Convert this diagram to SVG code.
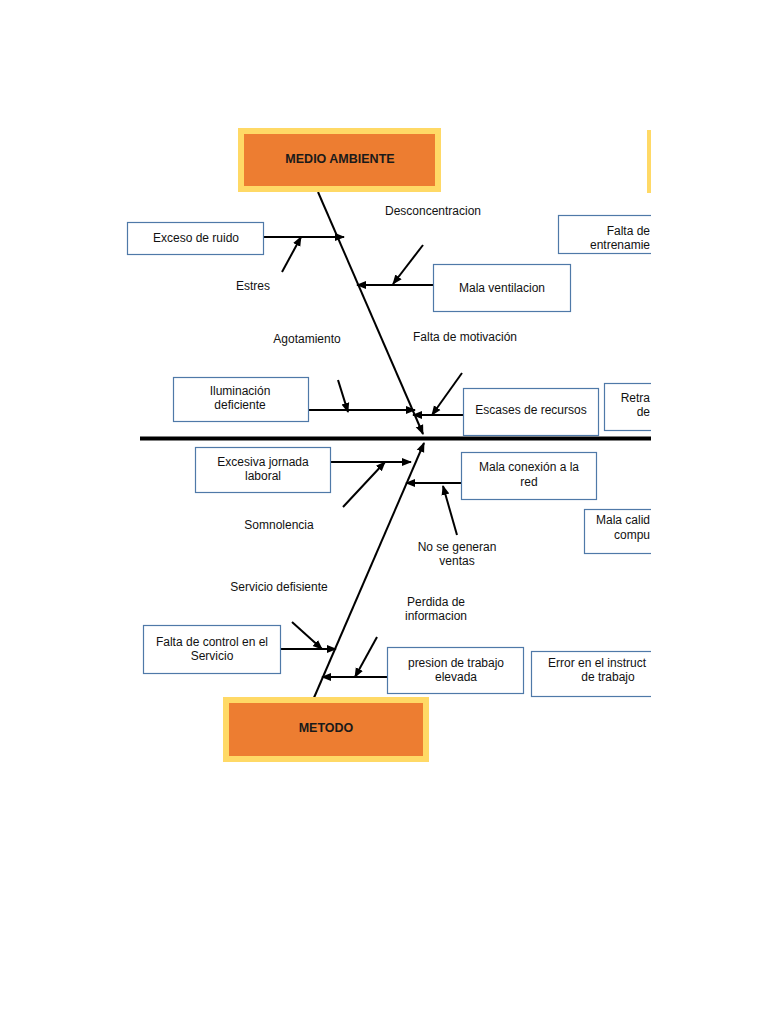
<svg xmlns="http://www.w3.org/2000/svg" width="768" height="1024" viewBox="0 0 768 1024">
<defs>
<clipPath id="page"><rect x="0" y="0" width="651" height="1024"/></clipPath>
<marker id="ah" viewBox="0 0 10 10" refX="9" refY="5" markerWidth="5" markerHeight="5" orient="auto" markerUnits="strokeWidth">
<path d="M0,1 L10,5 L0,9 z" fill="#000"/>
</marker>
<style>
.box{fill:#fff;stroke:#4f79a8;stroke-width:1.2}
.outer{fill:#ffd966}
.inner{fill:#ed7d31}
.t{font-family:"Liberation Sans",Arial,sans-serif;font-size:12px;fill:#111;text-anchor:middle}
.h{font-family:"Liberation Sans",Arial,sans-serif;font-size:12.5px;font-weight:bold;fill:#1a1a1a;text-anchor:middle}
.bone{stroke:#000;stroke-width:2;fill:none}
.arr{stroke:#000;stroke-width:2;fill:none;marker-end:url(#ah)}
</style>
</defs>
<rect width="768" height="1024" fill="#fff"/>
<g clip-path="url(#page)">
<g id="connectors">
<line x1="140" y1="438.5" x2="651" y2="438.5" stroke="#000" stroke-width="4"/>
<line class="arr" x1="318" y1="192" x2="423" y2="434"/>
<line class="arr" x1="313" y1="700" x2="424" y2="443"/>
<line class="arr" x1="264" y1="237" x2="344" y2="237"/>
<line class="arr" x1="282" y1="272" x2="301" y2="237"/>
<line class="arr" x1="433" y1="285" x2="357" y2="285"/>
<line class="arr" x1="423" y1="245" x2="393" y2="284"/>
<line class="arr" x1="308" y1="410" x2="415" y2="410"/>
<line class="arr" x1="338" y1="380" x2="348" y2="412"/>
<line class="arr" x1="463" y1="415" x2="413" y2="415"/>
<line class="arr" x1="462" y1="373" x2="432" y2="415"/>
<line class="arr" x1="331" y1="462" x2="411" y2="462"/>
<line class="arr" x1="343" y1="507" x2="385" y2="462"/>
<line class="arr" x1="461" y1="483" x2="406" y2="483"/>
<line class="arr" x1="457" y1="535" x2="443" y2="486"/>
<line class="arr" x1="281" y1="649" x2="336" y2="649"/>
<line class="arr" x1="292" y1="622" x2="322" y2="649"/>
<line class="arr" x1="387" y1="677" x2="322" y2="677"/>
<line class="arr" x1="377" y1="637" x2="355" y2="677"/>
</g>
<g id="medio-ambiente">
<rect class="outer" x="238" y="128" width="203" height="64"/>
<rect class="inner" x="244" y="134" width="191" height="52"/>
<text class="h" x="340" y="163">MEDIO AMBIENTE</text>
</g>
<g id="metodo">
<rect class="outer" x="223" y="697" width="206" height="65"/>
<rect class="inner" x="229" y="703" width="194" height="53"/>
<text class="h" x="326" y="732">METODO</text>
</g>
<g id="mano-de-obra">
<rect class="outer" x="647" y="130" width="60" height="63"/>
</g>
<g id="exceso-de-ruido">
<rect class="box" x="127.5" y="222.5" width="136" height="32"/>
<text class="t" x="196" y="242">Exceso de ruido</text>
</g>
<g id="estres"><text class="t" x="253" y="290">Estres</text></g>
<g id="desconcentracion"><text class="t" x="433" y="215">Desconcentracion</text></g>
<g id="mala-ventilacion">
<rect class="box" x="433.5" y="264.5" width="137" height="47"/>
<text class="t" x="502" y="292">Mala ventilacion</text>
</g>
<g id="falta-entrenamiento">
<rect class="box" x="558.5" y="215.5" width="140" height="38"/>
<text class="t" x="650" y="235" text-anchor="end" style="text-anchor:end">Falta de</text>
<text class="t" x="650" y="249" style="text-anchor:end">entrenamie</text>
</g>
<g id="agotamiento"><text class="t" x="307" y="343">Agotamiento</text></g>
<g id="falta-motivacion"><text class="t" x="465" y="341">Falta de motivación</text></g>
<g id="iluminacion">
<rect class="box" x="173.5" y="377.5" width="135" height="44"/>
<text class="t" x="240" y="395">Iluminación</text>
<text class="t" x="240" y="409">deficiente</text>
</g>
<g id="escases">
<rect class="box" x="463.5" y="388.5" width="135" height="47"/>
<text class="t" x="531" y="414">Escases de recursos</text>
</g>
<g id="retraso">
<rect class="box" x="604.5" y="383.5" width="100" height="47"/>
<text class="t" x="650" y="402" style="text-anchor:end">Retra</text>
<text class="t" x="650" y="416" style="text-anchor:end">de</text>
</g>
<g id="excesiva-jornada">
<rect class="box" x="195.5" y="447.5" width="135" height="45"/>
<text class="t" x="263" y="466">Excesiva jornada</text>
<text class="t" x="263" y="480">laboral</text>
</g>
<g id="mala-conexion">
<rect class="box" x="461.5" y="452.5" width="135" height="47"/>
<text class="t" x="529" y="471">Mala conexión a la</text>
<text class="t" x="529" y="486">red</text>
</g>
<g id="mala-calidad">
<rect class="box" x="584.5" y="509.5" width="100" height="44"/>
<text class="t" x="650" y="524" style="text-anchor:end">Mala calid</text>
<text class="t" x="650" y="539" style="text-anchor:end">compu</text>
</g>
<g id="somnolencia"><text class="t" x="279" y="529">Somnolencia</text></g>
<g id="no-ventas">
<text class="t" x="457" y="551">No se generan</text>
<text class="t" x="457" y="565">ventas</text>
</g>
<g id="servicio-defisiente"><text class="t" x="279" y="591">Servicio defisiente</text></g>
<g id="perdida-info">
<text class="t" x="436" y="606">Perdida de</text>
<text class="t" x="436" y="620">informacion</text>
</g>
<g id="falta-control">
<rect class="box" x="143.5" y="625.5" width="137" height="48"/>
<text class="t" x="212" y="646">Falta de control en el</text>
<text class="t" x="212" y="660">Servicio</text>
</g>
<g id="presion-trabajo">
<rect class="box" x="387.5" y="647.5" width="136" height="46"/>
<text class="t" x="456" y="667">presion de trabajo</text>
<text class="t" x="456" y="681">elevada</text>
</g>
<g id="error-instructivo">
<rect class="box" x="531.5" y="651.5" width="160" height="45"/>
<text class="t" x="548" y="667" style="text-anchor:start">Error en el instruct</text>
<text class="t" x="608" y="681">de trabajo</text>
</g>
</g>
</svg>
